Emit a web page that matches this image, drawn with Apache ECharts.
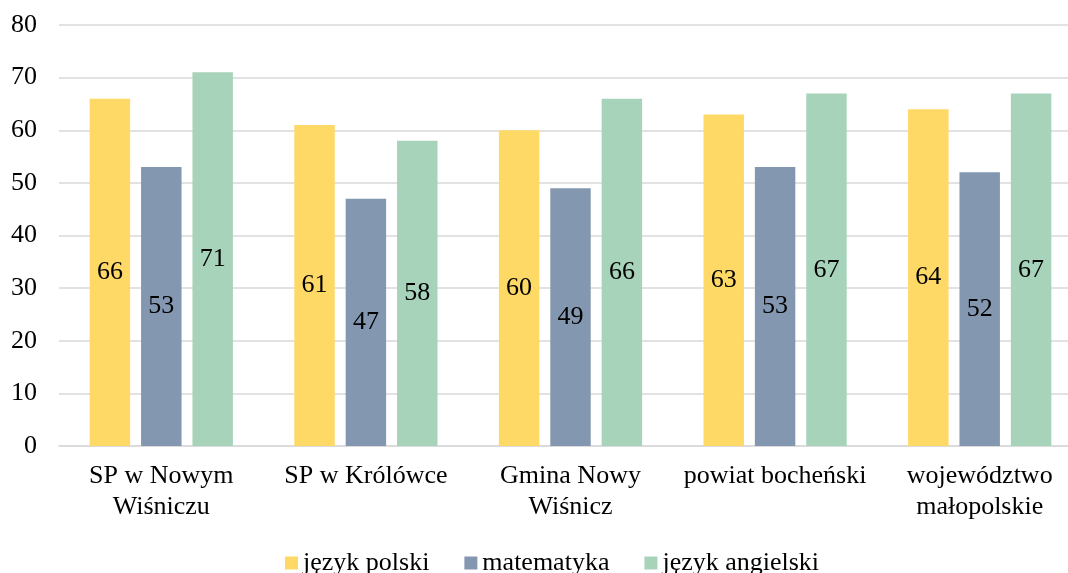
<!DOCTYPE html>
<html>
<head>
<meta charset="utf-8">
<script src="https://cdn.jsdelivr.net/npm/echarts@6/dist/echarts.min.js"></script>
<style>
  html, body { margin: 0; padding: 0; background: #fff; overflow: hidden; }
  /* the source chart is cut off on the right, so draw a bit wider than the window */
  #container { width: 1082px; height: 573px; }
</style>
</head>
<body>
<div id="container"></div>
<script>
  var categories = ['SP w Nowym\nWiśniczu', 'SP w Królówce', 'Gmina Nowy\nWiśnicz', 'powiat bocheński', 'województwo\nmałopolskie'];
  var polski = [66, 61, 60, 63, 64];
  var matematyka = [53, 47, 49, 53, 52];
  var angielski = [71, 58, 66, 67, 67];
  var seriesNames = ['język polski', 'matematyka', 'język angielski'];

  var dom = document.getElementById('container');
  var myChart = echarts.init(dom, null, { renderer: 'canvas' });

  var font = 'Liberation Serif';
  var label = {
    show: true,
    position: 'inside',
    color: '#000',
    fontFamily: font,
    fontSize: 26
  };

  var option = {
    animation: false,
    color: ['#FFD966', '#8497B0', '#A6D3BA'],
    textStyle: { fontFamily: font },
    legend: {
      bottom: -8,
      left: 280,
      itemWidth: 13,
      itemHeight: 13,
      itemGap: 35,
      icon: 'rect',
      textStyle: { fontFamily: font, fontSize: 26, color: '#000' },
      data: seriesNames
    },
    grid: { left: 59, right: 0, top: 25, bottom: 127 },
    xAxis: {
      type: 'category',
      data: categories,
      axisLine: { lineStyle: { color: '#d9d9d9', width: 1.5 } },
      axisTick: { show: false },
      axisLabel: {
        color: '#000',
        fontFamily: font,
        fontSize: 26,
        lineHeight: 31,
        margin: 15,
        interval: 0
      }
    },
    yAxis: {
      type: 'value',
      min: 0,
      max: 80,
      interval: 10,
      axisLine: { show: false },
      axisTick: { show: false },
      splitLine: { lineStyle: { color: '#d9d9d9', width: 1.5 } },
      axisLabel: { color: '#000', fontFamily: font, fontSize: 26, margin: 22 }
    },
    series: [
      { name: seriesNames[0], type: 'bar', data: polski, barGap: '27%', barCategoryGap: '30%', label: label },
      { name: seriesNames[1], type: 'bar', data: matematyka, label: label },
      { name: seriesNames[2], type: 'bar', data: angielski, label: label }
    ]
  };

  myChart.setOption(option);
  window.addEventListener('resize', myChart.resize);
</script>
</body>
</html>
